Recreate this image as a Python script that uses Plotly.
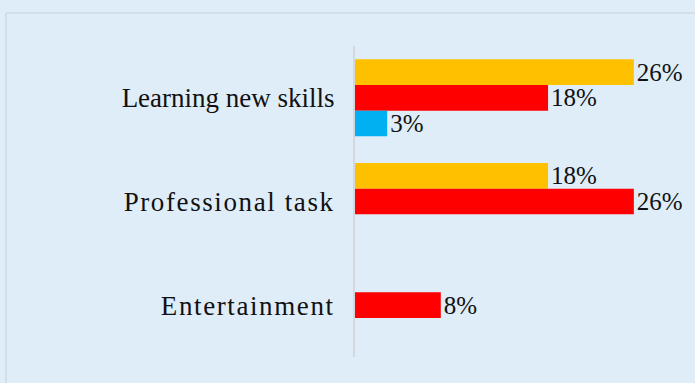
import plotly.graph_objects as go

# Usage purposes and the share of respondents per group (percent)
categories = ["Learning new skills", "Professional task", "Entertainment"]
series_names = ["Series 1", "Series 2", "Series 3"]
series_1 = [26, 18, None]
series_2 = [18, 26, 8]
series_3 = [3, None, None]

colors = ["#FFC000", "#FF0000", "#00B0F0"]
bg = "#DFEDF8"
serif = "Liberation Serif, Times New Roman, serif"

# per-label letter spacing (px) for the category names
spacing = [0, 1.6, 1.6]
tick_text = [
    f'<span style="letter-spacing:{s}px">{c}</span>' if s else c
    for c, s in zip(categories, spacing)
]

fig = go.Figure()
for name, vals, col in zip(series_names, [series_1, series_2, series_3], colors):
    fig.add_trace(go.Bar(
        y=categories,
        x=vals,
        name=name,
        orientation="h",
        marker=dict(color=col, line=dict(width=0)),
        text=[f"{v}%" if v is not None else "" for v in vals],
        textposition="outside",
        constraintext="none",
        textfont=dict(family=serif, size=25, color="#111111"),
        cliponaxis=False,
    ))

fig.update_layout(
    width=695,
    height=383,
    margin=dict(l=355, r=0, t=46, b=26),
    paper_bgcolor=bg,
    plot_bgcolor=bg,
    barmode="group",
    bargap=0.257,
    bargroupgap=0,
    showlegend=False,
    xaxis=dict(
        range=[0, 31.7],
        visible=False,
        showgrid=False,
        zeroline=False,
    ),
    yaxis=dict(
        autorange="reversed",
        showline=True,
        linecolor="#D4D8DC",
        linewidth=2,
        showgrid=False,
        zeroline=False,
        ticks="",
        tickmode="array",
        tickvals=categories,
        ticktext=tick_text,
        ticklabelstandoff=13,
        tickfont=dict(family=serif, size=27, color="#111111"),
    ),
    shapes=[
        # chart frame (top and left edges visible)
        dict(type="line", xref="paper", yref="paper",
             x0=-1.0265, x1=1.1, y0=1.106, y1=1.106,
             line=dict(color="#CFDAE3", width=1.5)),
        dict(type="line", xref="paper", yref="paper",
             x0=-1.0265, x1=-1.0265, y0=1.106, y1=-0.2,
             line=dict(color="#CFDAE3", width=1.5)),
    ],
)

fig.write_html("out.html")
